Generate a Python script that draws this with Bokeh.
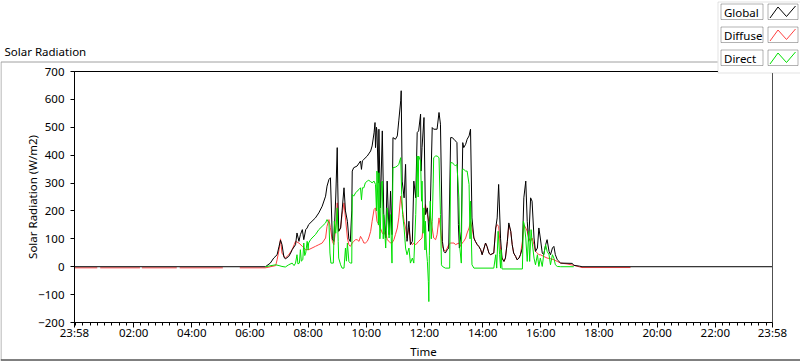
from bokeh.plotting import figure
from bokeh.models import Range1d, FixedTicker, Label, BoxAnnotation, Span, ColumnDataSource, GridBox
from bokeh.embed import file_html
from bokeh.resources import INLINE

NaN = float("nan")

# time axis: minutes after midnight (-2 = 23:58 of the previous day, 1438 = 23:58)
global_t = [-2, 392, 395, 402, 409, 416, 420, 423, 426, 430,
            433, 440, 444, 447, 454, 457, 461, 464, 468, 471,
            475, 478, 481, 488, 495, 502, 509, 516, 519, 523,
            526, 530, 533, 537, 540, 541, 543, 547, 550, 554,
            557, 561, 564, 567, 570, 571, 574, 581, 588, 590,
            592, 595, 602, 609, 612, 616, 618, 619, 621, 622,
            625, 626, 629, 633, 636, 640, 643, 647, 650, 653,
            655, 660, 664, 667, 671, 672, 674, 678, 681, 684,
            688, 691, 695, 698, 702, 705, 708, 712, 713, 715,
            719, 722, 726, 729, 732, 736, 739, 746, 750, 753,
            757, 760, 763, 767, 770, 774, 777, 781, 784, 787,
            790, 792, 796, 799, 801, 805, 808, 812, 815, 818,
            822, 825, 829, 832, 836, 839, 843, 846, 849, 853,
            856, 863, 867, 870, 873, 877, 880, 884, 887, 891,
            894, 898, 901, 904, 908, 911, 915, 918, 922, 925,
            929, 932, 935, 939, 942, 946, 949, 953, 956, 959,
            963, 966, 970, 973, 977, 980, 984, 987, 990, 994,
            1001, 1025, 1028, 1040, 1045, 1438]
global_v = [0, 0, 4, 13, 31, 43, 73, 95, 80, 35,
            28, 37, 49, 61, 79, 121, 91, 115, 133, 97,
            133, 139, 151, 163, 175, 193, 217, 253, 289, 313,
            319, 100, 91, 250, 427, 300, 127, 139, 200, 283,
            200, 163, 100, 90, 200, 343, 355, 361, 379, 349,
            380, 385, 397, 415, 433, 480, 517, 427, 500, 487,
            300, 493, 211, 487, 187, 103, 307, 115, 271, 115,
            463, 457, 469, 523, 595, 631, 307, 247, 367, 91,
            163, 79, 91, 307, 247, 481, 487, 547, 343, 427,
            535, 187, 211, 127, 211, 499, 493, 493, 553, 511,
            91, 55, 49, 61, 67, 463, 463, 457, 451, 445,
            151, 67, 127, 445, 427, 439, 457, 469, 493, 175,
            103, 91, 79, 73, 61, 43, 67, 85, 73, 49,
            43, 49, 139, 175, 295, 100, 31, 19, 31, 91,
            157, 127, 79, 49, 37, 25, 31, 43, 67, 247,
            307, 163, 91, 247, 235, 103, 55, 67, 139, 103,
            49, 43, 79, 97, 55, 43, 67, 73, 43, 25,
            13, 12, 5, 2, 0, 0]

diffuse_t = [-2, 45, 48, 51, 133, 135, 137, 209, 212, 215,
             304, 320, 339, 392, 413, 416, 420, 423, 426, 433,
             440, 447, 454, 461, 468, 475, 481, 488, 495, 502,
             509, 516, 519, 523, 526, 530, 533, 537, 540, 543,
             547, 550, 554, 557, 561, 564, 567, 571, 574, 578,
             581, 585, 588, 592, 595, 598, 602, 605, 609, 612,
             616, 619, 622, 626, 629, 633, 636, 640, 643, 647,
             650, 653, 657, 660, 664, 667, 671, 674, 678, 681,
             684, 688, 691, 695, 698, 702, 708, 715, 719, 722,
             726, 729, 732, 736, 739, 743, 746, 750, 753, 757,
             760, 763, 767, 770, 774, 781, 784, 791, 794, 798,
             801, 805, 808, 812, 815, 818, 822, 825, 829, 832,
             836, 839, 843, 846, 849, 853, 856, 863, 867, 870,
             873, 877, 880, 884, 887, 891, 894, 898, 901, 904,
             908, 911, 915, 918, 922, 925, 929, 932, 935, 939,
             942, 946, 949, 953, 956, 959, 966, 973, 980, 987,
             994, 1001, 1014, 1028, 1045, 1145]
diffuse_v = [-4, -4, NaN, -4, -4, NaN, -4, -4, NaN, -4,
             -4, NaN, -4, -4, 4, 25, 61, 100, 49, 31,
             43, 61, 91, 85, 73, 61, 61, 67, 73, 79,
             85, 103, 145, 169, 140, 91, 79, 139, 229, 127,
             139, 187, 229, 175, 103, 79, 73, 85, 91, 97,
             97, 91, 109, 97, 85, 85, 91, 103, 127, 163,
             205, 211, 163, 151, 139, 121, 115, 127, 97, 91,
             85, 85, 97, 115, 139, 175, 253, 211, 163, 139,
             103, 139, 91, 79, 85, 79, 91, 103, 175, 223,
             187, 163, 181, 139, 103, 97, 115, 175, 139, 73,
             61, 55, 67, 79, 85, 85, 79, 85, 73, 85,
             91, 103, 121, 139, 163, 139, 103, 91, 79, 73,
             61, 43, 67, 85, 73, 49, 43, 49, 139, 151,
             145, 61, 31, 19, 31, 91, 150, 127, 79, 49,
             37, 25, 31, 43, 91, 151, 139, 127, 103, 91,
             103, 79, 55, 49, 43, 43, 37, 31, 29, 25,
             19, 13, 10, 5, -3, -3]

direct_t = [392, 413, 420, 426, 433, 440, 447, 451, 454, 457,
            459, 462, 464, 466, 469, 471, 473, 475, 478, 480,
            481, 485, 488, 495, 502, 509, 516, 519, 523, 525,
            527, 532, 534, 537, 540, 542, 543, 547, 550, 554,
            557, 559, 561, 564, 567, 570, 571, 574, 578, 581,
            585, 588, 590, 592, 595, 598, 602, 605, 609, 612,
            616, 619, 621, 622, 625, 626, 628, 629, 631, 633,
            635, 636, 640, 643, 647, 650, 653, 655, 660, 664,
            667, 671, 673, 675, 678, 681, 684, 688, 691, 695,
            698, 702, 705, 707, 708, 712, 714, 715, 717, 719,
            721, 722, 724, 726, 728, 729, 730, 731, 732, 734,
            736, 738, 739, 743, 746, 750, 753, 755, 757, 763,
            772, 774, 777, 781, 784, 787, 791, 793, 796, 798,
            801, 805, 808, 812, 814, 815, 818, 822, 863, 867,
            869, 872, 875, 877, 878, 880, 922, 924, 926, 929,
            932, 935, 937, 940, 942, 946, 949, 953, 956, 959,
            963, 966, 970, 973, 977, 980, 984, 987, 990, 994,
            1001, 1028]
direct_v = [0, 7, 4, 1, -1, 7, 13, 4, 13, 43,
            10, 13, 61, 20, 25, 85, 40, 49, 91, 60,
            85, 97, 103, 115, 133, 145, 157, 169, 157, 49,
            13, 13, 163, 120, 211, 90, 31, 7, -5, -5,
            67, 20, 85, 19, 13, 13, 259, 253, 265, 271,
            277, 283, 240, 283, 283, 301, 307, 310, 305, 301,
            307, 295, 200, 343, 150, 337, 100, 127, 300, 307,
            100, 187, 67, 211, 103, 187, 13, 355, 357, 361,
            367, 391, 259, 187, 139, 67, 43, 67, 13, 31,
            13, 187, 397, 250, 397, 379, 235, 307, 120, 211,
            60, 163, 60, 19, -53, -125, 40, 139, 235, 100,
            163, 300, 391, 397, 397, 391, 187, 7, 1, -5,
            -5, 373, 373, 367, 361, 367, 247, 67, 13, 349,
            349, 343, 343, 295, 100, 235, 7, -5, -5, 43,
            -5, 127, 43, -5, 61, -8, -8, 163, 151, 103,
            19, 127, 19, 133, 91, 31, 7, 43, 1, 31,
            1, 43, 79, 55, 43, 7, 43, 31, 7, 1,
            0, 0]

assert len(global_t) == len(global_v)
assert len(diffuse_t) == len(diffuse_v)
assert len(direct_t) == len(direct_v)

x_ticks = [-2, 120, 240, 360, 480, 600, 720, 840, 960, 1080, 1200, 1320, 1438]
x_tick_labels = ["23:58", "02:00", "04:00", "06:00", "08:00", "10:00", "12:00",
                 "14:00", "16:00", "18:00", "20:00", "22:00", "23:58"]
x_minor_ticks = [m for m in range(0, 1438, 15) if m == 0 or m % 120 != 0]
y_ticks = [-200, -100, 0, 100, 200, 300, 400, 500, 600, 700]

series_names = ["Global", "Diffuse", "Direct"]
series_colors = ["#000000", "#ff4040", "#00e000"]
graph_title = "Solar Radiation"

FONT = "Noto Sans"
FS = "11.5px"
W, H = 800, 361

# ---------------- main graph ----------------
p = figure(width=W, height=H, output_backend="svg", toolbar_location=None,
           x_range=Range1d(-2, 1438), y_range=Range1d(-200, 700),
           min_border_left=74, min_border_right=28, min_border_top=71, min_border_bottom=39)
p.frame_align = False
p.background_fill_color = "white"
p.border_fill_color = "white"
p.outline_line_color = "black"
p.xgrid.visible = False
p.ygrid.visible = False

src_d = ColumnDataSource(dict(t=diffuse_t, v=diffuse_v))
src_g = ColumnDataSource(dict(t=global_t, v=global_v))
src_r = ColumnDataSource(dict(t=direct_t, v=direct_v))
p.line("t", "v", source=src_d, line_color=series_colors[1], line_width=1)
p.line("t", "v", source=src_g, line_color=series_colors[0], line_width=1)
p.line("t", "v", source=src_r, line_color=series_colors[2], line_width=1)

p.add_layout(Span(location=1438, dimension="height", line_color="#a0a0a0", line_width=1))

xa = p.xaxis[0]
xa.ticker = FixedTicker(ticks=x_ticks, minor_ticks=x_minor_ticks)
xa.major_label_overrides = {t: lab for t, lab in zip(x_ticks, x_tick_labels)}
xa.axis_label = "Time"
xa.major_tick_in = 0
xa.major_tick_out = 5
xa.minor_tick_in = 0
xa.minor_tick_out = 3
xa.minor_tick_line_color = "black"
xa.major_label_standoff = -3
xa.axis_label_standoff = 1

ya = p.yaxis[0]
ya.ticker = FixedTicker(ticks=y_ticks, minor_ticks=[])
ya.axis_label = "Solar Radiation (W/m2)"
ya.major_tick_in = 0
ya.major_tick_out = 4
ya.minor_tick_line_color = None
ya.major_label_standoff = 6
ya.axis_label_standoff = -5

for ax in (xa, ya):
    ax.axis_line_color = "black"
    ax.major_tick_line_color = "black"
    ax.major_label_text_font = FONT
    ax.major_label_text_font_size = FS
    ax.major_label_text_color = "black"
    ax.axis_label_text_font = FONT
    ax.axis_label_text_font_size = FS
    ax.axis_label_text_font_style = "normal"
    ax.axis_label_text_color = "black"

# ---------------- overlay: graph frame, title and plot legend (page pixel space) ----------------
ov = figure(width=W, height=H, output_backend="svg", toolbar_location=None,
            x_range=Range1d(0, W), y_range=Range1d(H, 0),
            x_axis_type=None, y_axis_type=None, min_border=0)
ov.frame_align = False
ov.background_fill_color = None
ov.border_fill_color = None
ov.outline_line_color = None
ov.grid.visible = False

ov.line([0.5, 717], [61.5, 61.5], line_color="#a0a0a0", line_width=1)
ov.line([0.5, 0.5], [61.5, 359], line_color="#a0a0a0", line_width=1)
ov.line([0, 800], [359.5, 359.5], line_color="black", line_width=1)

ov.add_layout(Label(text=graph_title, x=4, y=50.5, text_baseline="middle",
                    text_font=FONT, text_font_size=FS, text_color="black"))

ov.add_layout(BoxAnnotation(left=717.5, right=801, top=1.5, bottom=72.5,
                            fill_color="white", fill_alpha=1.0,
                            line_color="#a0a0a0", line_width=1, level="underlay"))
row_tops = [3.5, 26.5, 49.5]
for name, color, top in zip(series_names, series_colors, row_tops):
    bot = top + 15.5
    ov.add_layout(BoxAnnotation(left=720.5, right=762.5, top=top, bottom=bot,
                                fill_color="white", fill_alpha=1.0,
                                line_color="black", line_width=1, level="underlay"))
    ov.add_layout(BoxAnnotation(left=767.5, right=797.5, top=top, bottom=bot,
                                fill_color="white", fill_alpha=1.0,
                                line_color="black", line_width=1, level="underlay"))
    ov.add_layout(Label(text=name, x=723.5, y=top + 8, text_baseline="middle",
                        text_font=FONT, text_font_size=FS, text_color="black"))
    ov.line([769.5, 777.5, 786, 795], [top + 14, top + 3, top + 12.5, top + 2],
            line_color=color, line_width=1)

layout = GridBox(children=[(p, 0, 0), (ov, 0, 0)])
open("out.html", "w").write(file_html(layout, INLINE))
